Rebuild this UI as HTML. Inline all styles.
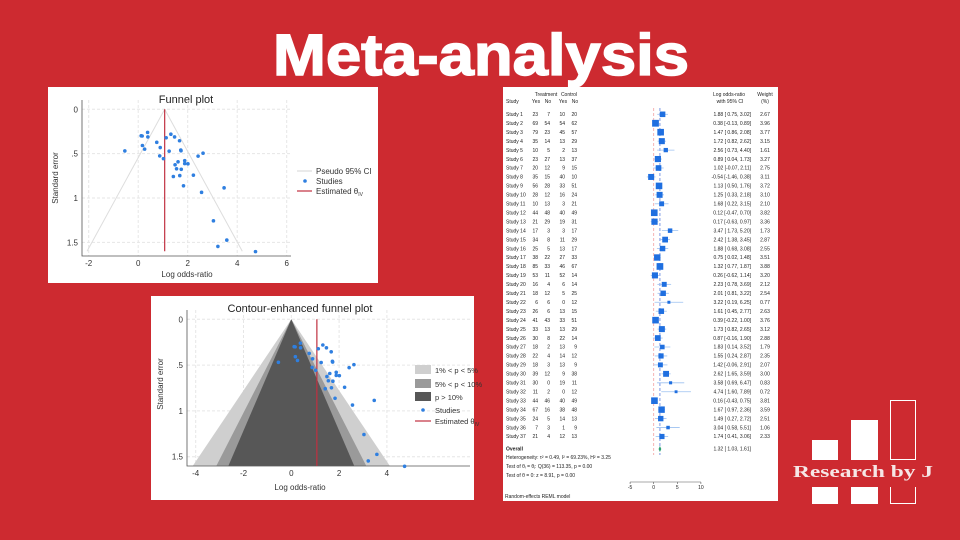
<!DOCTYPE html>
<html><head><meta charset="utf-8"><style>
html,body{margin:0;padding:0;background:#cd2a30;}
svg{display:block;font-family:"Liberation Sans",Arial,sans-serif;}
</style></head><body>
<svg id="s" width="960" height="540" viewBox="0 0 960 540" xmlns="http://www.w3.org/2000/svg">
<rect width="960" height="540" fill="#cd2a30"/>
<text x="481" y="75" text-anchor="middle" font-size="58" font-weight="bold" fill="#fff" stroke="#fff" stroke-width="1.5" textLength="416" lengthAdjust="spacingAndGlyphs">Meta-analysis</text>

<g id="fp">
<rect x="48" y="87" width="330" height="196" fill="#fff"/>
<text x="186" y="103" text-anchor="middle" font-size="11" fill="#222">Funnel plot</text>
</g>
<g id="cp">
<rect x="151" y="296" width="323" height="204" fill="#fff"/>
<text x="300" y="312" text-anchor="middle" font-size="11" fill="#222">Contour-enhanced funnel plot</text>
</g>
<g id="fo">
<rect x="503" y="87" width="275" height="414" fill="#fff"/>
</g>

<g>
<rect x="812" y="440" width="26" height="20" fill="#fff"/>
<rect x="851" y="420" width="27" height="40" fill="#fff"/>
<rect x="890.5" y="400.5" width="25" height="59" fill="none" stroke="#fff" stroke-width="1"/>
<text x="863" y="477" text-anchor="middle" font-family="Liberation Serif,serif" font-weight="bold" font-size="17" fill="#f6e6e6" textLength="140" lengthAdjust="spacingAndGlyphs">Research by J</text>
<rect x="812" y="487" width="26" height="17" fill="#fff"/>
<rect x="851" y="487" width="27" height="17" fill="#fff"/>
<path d="M890.5 487 V503.5 H915.5 V487" fill="none" stroke="#fff"/>
</g>
</svg>
<script>
const studies=["Study 1","Study 2","Study 3","Study 4","Study 5","Study 6","Study 7","Study 8","Study 9","Study 10","Study 11","Study 12","Study 13","Study 14","Study 15","Study 16","Study 17","Study 18","Study 19","Study 20","Study 21","Study 22","Study 23","Study 24","Study 25","Study 26","Study 27","Study 28","Study 29","Study 30","Study 31","Study 32","Study 33","Study 34","Study 35","Study 36","Study 37"];
const tYes=[23,69,79,35,10,23,20,35,56,28,10,44,21,17,34,25,38,85,53,16,18,6,26,41,33,30,18,22,18,39,30,11,44,67,24,7,21];
const tNo=[7,54,23,14,5,27,12,15,28,12,13,48,29,3,8,5,22,33,11,4,12,6,6,43,13,8,2,4,3,12,0,2,46,16,5,3,4];
const cYes=[10,54,45,13,2,13,9,40,33,16,3,40,19,3,11,13,27,46,52,6,5,0,13,33,13,22,13,14,13,9,19,0,40,38,14,1,12];
const cNo=[20,62,57,29,13,37,15,10,51,24,21,49,31,17,29,17,33,67,14,14,25,12,15,51,29,14,9,12,9,38,11,12,49,48,13,9,13];
const est=[1.88,0.38,1.47,1.72,2.56,0.89,1.02,-0.54,1.13,1.25,1.68,0.12,0.17,3.47,2.42,1.88,0.75,1.32,0.26,2.23,2.01,3.22,1.61,0.39,1.73,0.87,1.83,1.55,1.42,2.62,3.58,4.74,0.16,1.67,1.49,3.04,1.74];
const lo=[0.75,-0.13,0.86,0.82,0.73,0.04,-0.07,-1.46,0.50,0.33,0.22,-0.47,-0.63,1.73,1.38,0.68,0.02,0.77,-0.62,0.78,0.81,0.19,0.45,-0.22,0.82,-0.16,0.14,0.24,-0.06,1.65,0.69,1.60,-0.43,0.97,0.27,0.58,0.41];
const hi=[3.02,0.89,2.08,2.62,4.40,1.73,2.11,0.38,1.76,2.18,3.15,0.70,0.97,5.20,3.45,3.08,1.48,1.87,1.14,3.69,3.22,6.25,2.77,1.00,2.65,1.90,3.52,2.87,2.91,3.59,6.47,7.89,0.75,2.36,2.72,5.51,3.06];
const weight=[2.67,3.96,3.77,3.15,1.61,3.27,2.75,3.11,3.72,3.10,2.10,3.82,3.36,1.73,2.87,2.55,3.51,3.88,3.20,2.12,2.54,0.77,2.63,3.76,3.12,2.88,1.79,2.35,2.07,3.00,0.83,0.72,3.81,3.59,2.51,1.06,2.33];
const overall=[1.32,1.03,1.61];
const thetaIV=1.07;
const funnelXTicks=[-2,0,2,4,6];
const contourXTicks=[-4,-2,0,2,4];
const seTicks=[0,0.5,1,1.5];
const seTickLabels=["0",".5","1","1.5"];
const forestTicks=[-5,0,5,10];

const NS="http://www.w3.org/2000/svg";
function mk(parent,tag,attrs,txt){const e=document.createElementNS(NS,tag);for(const k in attrs)e.setAttribute(k,attrs[k]);if(txt!==undefined)e.textContent=txt;parent.appendChild(e);return e;}
const se=est.map((v,i)=>(hi[i]-lo[i])/3.92);
const blue="#2f7fe0";

// ---------- Funnel plot ----------
(function(){
const g=document.getElementById('fp');
const X=v=>88.7+(v+2)*24.75, Y=s=>109.3+s*88.7;
const L=82,B=256,R=291,T=100;
seTicks.forEach((s,i)=>{const l=mk(g,'line',{x1:L,x2:R,y1:Y(s),y2:Y(s),stroke:'#e6e6e6','stroke-dasharray':'3 2'});

const t=mk(g,'text',{x:L-4,y:Y(s)+3,'text-anchor':'end','font-size':8,fill:'#333'},seTickLabels[i]);
});
funnelXTicks.forEach(v=>{const l=mk(g,'line',{x1:X(v),x2:X(v),y1:T,y2:B,stroke:'#e6e6e6','stroke-dasharray':'3 2'});

const t=mk(g,'text',{x:X(v),y:B+10,'text-anchor':'middle','font-size':8,fill:'#333'},v);
});
const ax=mk(g,'path',{d:`M${L} ${T} V${B} H${R}`,stroke:'#555',fill:'none','stroke-width':0.8});

const ci=mk(g,'path',{d:`M${X(thetaIV-1.96*1.6)} ${Y(1.6)} L${X(thetaIV)} ${Y(0)} L${X(thetaIV+1.96*1.6)} ${Y(1.6)}`,stroke:'#ddd',fill:'none'});

const rl=mk(g,'line',{x1:X(thetaIV),x2:X(thetaIV),y1:Y(0),y2:Y(1.6),stroke:'#c03040','stroke-width':1.2});

est.forEach((v,i)=>{const c=mk(g,'circle',{cx:X(v),cy:Y(se[i]),r:1.8,fill:blue});
});
const yt=mk(g,'text',{x:58,y:178,'text-anchor':'middle','font-size':8,fill:'#333',transform:'rotate(-90 58 178)'},'Standard error');

const xt=mk(g,'text',{x:187,y:277,'text-anchor':'middle','font-size':8,fill:'#333'},'Log odds-ratio');

const lg=[['line','#ddd','Pseudo 95% CI'],['dot',blue,'Studies'],['line','#c03040','Estimated θ']];
lg.forEach((e,i)=>{const y=171+i*10;
if(e[0]==='line'){const l=mk(g,'line',{x1:297,x2:312,y1:y,y2:y,stroke:e[1],'stroke-width':1.2});}
else{const c=mk(g,'circle',{cx:305,cy:y,r:1.8,fill:e[1]});}
const t=mk(g,'text',{x:316,y:y+3,'font-size':8,fill:'#333'},e[2]);
if(i===2){mk(t,'tspan',{'font-size':5,dy:2},'IV');}});
})();

// ---------- Contour funnel ----------
(function(){
const g=document.getElementById('cp');
const X=v=>291.3+v*23.9, Y=s=>319.3+s*91.6;
const L=187,B=466,R=470,T=310;
seTicks.forEach((s,i)=>{const l=mk(g,'line',{x1:L,x2:R,y1:Y(s),y2:Y(s),stroke:'#e6e6e6','stroke-dasharray':'3 2'});

const t=mk(g,'text',{x:L-4,y:Y(s)+3,'text-anchor':'end','font-size':8,fill:'#333'},seTickLabels[i]);
});
contourXTicks.forEach(v=>{const l=mk(g,'line',{x1:X(v),x2:X(v),y1:T,y2:B,stroke:'#e6e6e6','stroke-dasharray':'3 2'});

const t=mk(g,'text',{x:X(v),y:B+10,'text-anchor':'middle','font-size':8,fill:'#333'},v);
});
[[2.576,'#cfcfcf','contour-1-5pct'],[1.96,'#9a9a9a','contour-5-10pct'],[1.645,'#575757','contour-p-gt-10pct']].forEach(c=>{
const p=mk(g,'path',{d:`M${X(-c[0]*1.6)} ${Y(1.6)} L${X(0)} ${Y(0)} L${X(c[0]*1.6)} ${Y(1.6)} Z`,fill:c[1]});
});
const ax=mk(g,'path',{d:`M${L} ${T} V${B} H${R}`,stroke:'#555',fill:'none','stroke-width':0.8});

const rl=mk(g,'line',{x1:X(thetaIV),x2:X(thetaIV),y1:Y(0),y2:Y(1.6),stroke:'#c03040','stroke-width':1.2});

est.forEach((v,i)=>{const c=mk(g,'circle',{cx:X(v),cy:Y(se[i]),r:1.8,fill:blue});
});
const yt=mk(g,'text',{x:163,y:384,'text-anchor':'middle','font-size':8,fill:'#333',transform:'rotate(-90 163 384)'},'Standard error');

const xt=mk(g,'text',{x:300,y:490,'text-anchor':'middle','font-size':8,fill:'#333'},'Log odds-ratio');

const lg=[['box','#cfcfcf','1% < p < 5%'],['box','#9a9a9a','5% < p < 10%'],['box','#575757','p > 10%'],['dot',blue,'Studies'],['line','#c03040','Estimated θ']];
lg.forEach((e,i)=>{const y=[370,384,397,410,421][i];
if(e[0]==='box'){const r=mk(g,'rect',{x:415,y:y-5,width:16,height:9,fill:e[1]});}
else if(e[0]==='line'){const l=mk(g,'line',{x1:415,x2:431,y1:y,y2:y,stroke:e[1],'stroke-width':1.2});}
else{const c=mk(g,'circle',{cx:423,cy:y,r:1.8,fill:e[1]});}
const t=mk(g,'text',{x:435,y:y+3,'font-size':7.5,fill:'#333'},e[2]);
if(i===4)mk(t,'tspan',{'font-size':5,dy:2},'IV');});
})();

// ---------- Forest ----------
(function(){
const g=document.getElementById('fo');
const X=v=>653.7+v*4.72, row=i=>114.3+i*8.95;
const fs=5;
function tx(x,y,s,anchor,name,extra){const t=mk(g,'text',Object.assign({x:x,y:y,'font-size':fs,fill:'#222','text-anchor':anchor||'start'},extra||{}),s);
return t;}
tx(546,96,'Treatment','middle','header-treatment');tx(569,96,'Control','middle','header-control');
tx(506,103,'Study','start','header-study');
[[536,'Yes'],[548,'No'],[563,'Yes'],[575,'No']].forEach(h=>tx(h[0],103,h[1],'middle','header-yes-no'));
tx(729,96,'Log odds-ratio','middle','header-log-or');tx(730,103,'with 95% CI','middle','header-ci');
tx(765,96,'Weight','middle','header-weight');tx(765,103,'(%)','middle','header-weight-pct');
const zl=mk(g,'line',{x1:X(0),x2:X(0),y1:108,y2:455,stroke:'#f2a0a0','stroke-dasharray':'3 2','stroke-width':0.8});

const ol=mk(g,'line',{x1:X(overall[0]),x2:X(overall[0]),y1:108,y2:455,stroke:'#5a7fe0','stroke-dasharray':'3 2','stroke-width':0.8});

studies.forEach((s,i)=>{const y=row(i);
tx(506,y+1.7,s,'start','study-label');
tx(538,y+1.7,tYes[i],'end','treatment-yes');tx(550,y+1.7,tNo[i],'end','treatment-no');
tx(565,y+1.7,cYes[i],'end','control-yes');tx(577,y+1.7,cNo[i],'end','control-no');
const f=v=>(v<0?'':' ')+v.toFixed(2);
tx(751,y+1.7,est[i].toFixed(2)+' ['+f(lo[i])+', '+f(hi[i])+']','end','study-ci-text');
tx(765,y+1.7,weight[i].toFixed(2),'middle','study-weight');
const l=mk(g,'line',{x1:X(lo[i]),x2:X(hi[i]),y1:y,y2:y,stroke:'#9cc0f0','stroke-width':0.8});

const w=Math.sqrt(weight[i])*3.4;
const b=mk(g,'rect',{x:X(est[i])-w/2,y:y-w/2,width:w,height:w,fill:'#1f6fe0'});
});
const oy=449;
tx(506,oy+1.7,'Overall','start','overall-label',{'font-weight':'bold'});
tx(751,oy+1.7,overall[0].toFixed(2)+' [ '+overall[1].toFixed(2)+',  '+overall[2].toFixed(2)+']','end','overall-ci-text');
const d=mk(g,'path',{d:`M${X(overall[1])} ${oy} L${X(overall[0])} ${oy-3} L${X(overall[2])} ${oy} L${X(overall[0])} ${oy+3} Z`,fill:'#2aa070'});

tx(506,459,'Heterogeneity: τ² = 0.49, I² = 69.23%, H² = 3.25','start','heterogeneity-stats');
tx(506,468,'Test of θᵢ = θⱼ: Q(36) = 113.35, p = 0.00','start','homogeneity-test');
tx(506,477,'Test of θ = 0: z = 8.91, p = 0.00','start','overall-test');
const ax=mk(g,'line',{x1:X(-5),x2:X(10),y1:482,y2:482,stroke:'#555','stroke-width':0.6});

forestTicks.forEach(v=>{const t=mk(g,'line',{x1:X(v),x2:X(v),y1:482,y2:484,stroke:'#555','stroke-width':0.6});

tx(X(v),489,v,'middle','forest-x-tick-label');});
tx(505,498,'Random-effects REML model','start','model-note');
})();
</script>
</body></html>
